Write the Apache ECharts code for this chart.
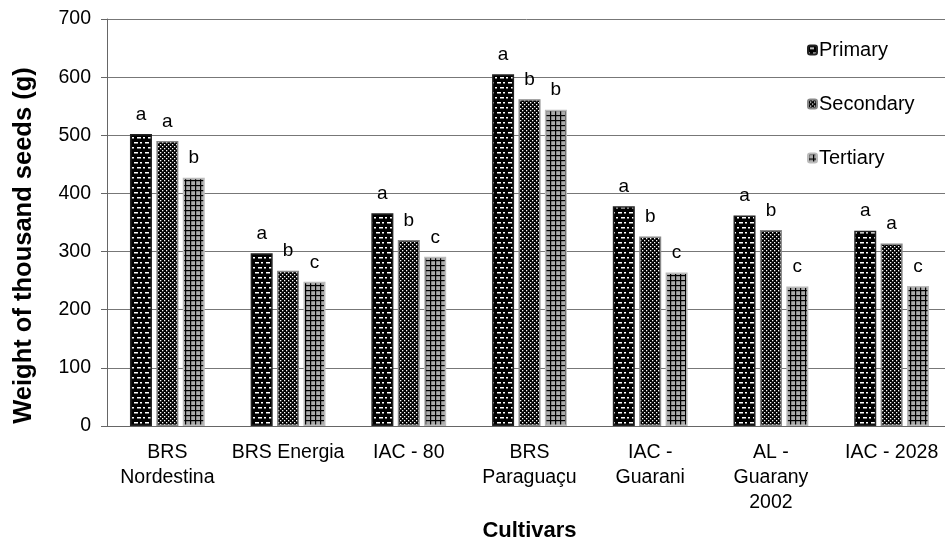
<!DOCTYPE html>
<html>
<head>
<meta charset="utf-8">
<script src="https://cdn.jsdelivr.net/npm/echarts@6/dist/echarts.min.js"></script>
<style>html,body{margin:0;padding:0;background:#fff}#c{width:945px;height:543px}</style>
</head>
<body>
<div id="c"></div>
<script>
var categories = ['BRS\nNordestina', 'BRS Energia', 'IAC - 80', 'BRS\nParaguaçu', 'IAC -\nGuarani', 'AL -\nGuarany\n2002', 'IAC - 2028'];
var seriesNames = ['Primary', 'Secondary', 'Tertiary'];
var primary = [502, 297, 366, 605, 378, 362, 336];
var secondary = [490, 267, 320, 562, 326, 337, 314];
var tertiary = [427, 248, 291, 544, 264, 240, 241];
var primaryLetters = ['a', 'a', 'a', 'a', 'a', 'a', 'a'];
var secondaryLetters = ['a', 'b', 'b', 'b', 'b', 'b', 'a'];
var tertiaryLetters = ['b', 'c', 'c', 'b', 'c', 'c', 'c'];
var yTicks = [0, 100, 200, 300, 400, 500, 600, 700];

function tile(w, h, draw) {
  var c = document.createElement('canvas');
  c.width = w; c.height = h;
  var ctx = c.getContext('2d');
  draw(ctx);
  return c;
}
var pPrimary = tile(11, 10, function (ctx) {
  ctx.fillStyle = '#000'; ctx.fillRect(0, 0, 11, 10);
  ctx.fillStyle = '#fff';
  ctx.fillRect(2, 2, 4, 1.5); ctx.fillRect(8, 2, 2, 1.5);
  ctx.fillRect(0, 7, 2, 1.5); ctx.fillRect(5, 7, 4, 1.5);
});
var pSecondary = tile(4, 4, function (ctx) {
  ctx.fillStyle = '#000'; ctx.fillRect(0, 0, 4, 4);
  ctx.fillStyle = '#fff';
  ctx.fillRect(0, 0, 1.3, 1.3); ctx.fillRect(2, 2, 1.3, 1.3);
});
var pTertiary = tile(5, 5, function (ctx) {
  ctx.fillStyle = '#aaa'; ctx.fillRect(0, 0, 5, 5);
  ctx.fillStyle = '#000';
  ctx.fillRect(0, 0, 5, 1.2); ctx.fillRect(0, 0, 1.2, 5);
});

var font = 'Liberation Sans, Arial, sans-serif';
function mk(name, data, letters, pat, border) {
  return {
    name: name, type: 'bar', data: data, barWidth: 22, barGap: '20%',
    itemStyle: { color: { image: pat, repeat: 'repeat' }, borderColor: border, borderWidth: 1.5 },
    label: {
      show: true, position: 'top', distance: 10, color: '#000', fontSize: 19, fontFamily: font,
      formatter: function (p) { return letters[p.dataIndex]; }
    }
  };
}

var chart = echarts.init(document.getElementById('c'), null, { renderer: 'canvas' });
chart.setOption({
  animation: false,
  textStyle: { fontFamily: font },
  grid: { left: 107, top: 19, bottom: 117, right: -7, containLabel: false, outerBoundsMode: 'none' },
  legend: {
    orient: 'vertical', left: 802, top: 35, itemWidth: 9, itemHeight: 9, itemGap: 34,
    textStyle: { fontSize: 20, color: '#000', fontFamily: font, padding: [0, 0, 0, -3] },
    data: seriesNames
  },
  xAxis: {
    type: 'category', data: categories,
    name: 'Cultivars', nameLocation: 'middle', nameGap: 92,
    nameTextStyle: { fontSize: 22, fontWeight: 'bold', color: '#000', fontFamily: font },
    axisLine: { lineStyle: { color: '#666', width: 1 } },
    axisTick: { alignWithLabel: true, length: 5, lineStyle: { color: '#666' } },
    axisLabel: { color: '#000', fontSize: 19.5, lineHeight: 25, margin: 14, interval: 0, fontFamily: font }
  },
  yAxis: {
    type: 'value', min: yTicks[0], max: yTicks[yTicks.length - 1], interval: 100,
    name: 'Weight of thousand seeds (g)', nameLocation: 'middle', nameGap: 70,
    nameTextStyle: { fontSize: 25.5, fontWeight: 'bold', color: '#000', fontFamily: font, padding: [0, 46, 0, 0] },
    axisLine: { show: true, lineStyle: { color: '#666', width: 1 } },
    axisTick: { show: true, length: 6, lineStyle: { color: '#666' } },
    axisLabel: { color: '#000', fontSize: 19.5, margin: 16, fontFamily: font },
    splitLine: { lineStyle: { color: '#777', width: 1 } }
  },
  series: [
    mk('Primary', primary, primaryLetters, pPrimary, '#222'),
    mk('Secondary', secondary, secondaryLetters, pSecondary, '#888'),
    mk('Tertiary', tertiary, tertiaryLetters, pTertiary, '#bbb')
  ]
});
</script>
</body>
</html>
